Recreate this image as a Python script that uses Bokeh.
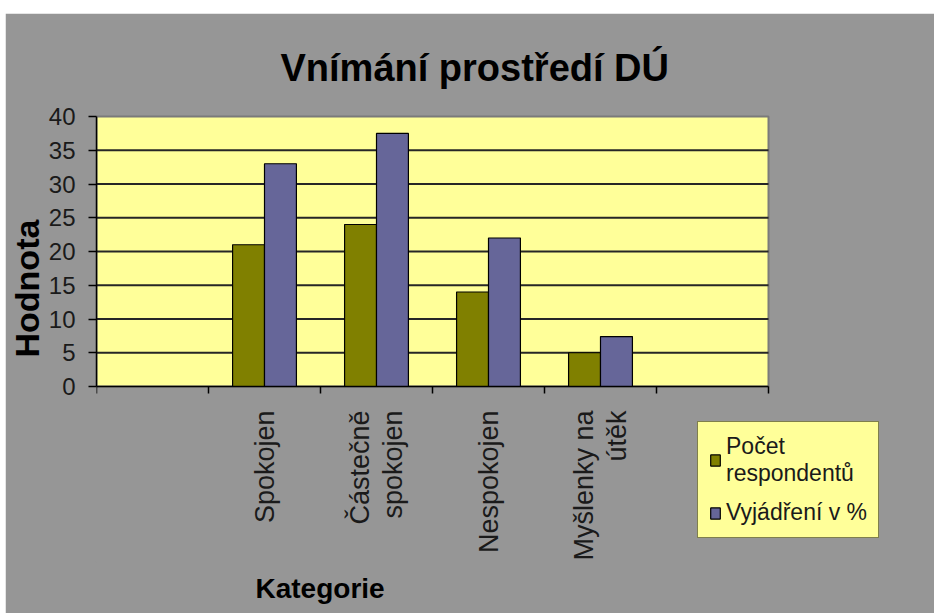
from math import pi

from bokeh.plotting import figure
from bokeh.models import (Range1d, FixedTicker, Legend, LegendItem, Title, ColumnDataSource)
from bokeh.core.properties import value
from bokeh.transform import dodge
from bokeh.embed import file_html
from bokeh.resources import INLINE

# ---- data ----
title_text = "Vnímání prostředí DÚ"
y_title = "Hodnota"
x_title = "Kategorie"
categories = ["Spokojen", "Částečně spokojen", "Nespokojen", "Myšlenky na útěk"]
category_labels = ["Spokojen", "Částečně\nspokojen", "Nespokojen", "Myšlenky na\nútěk"]
pocet_respondentu = [21, 24, 14, 5]
vyjadreni_procenta = [33, 37.5, 22, 7.4]
series_names = ["Počet\nrespondentů", "Vyjádření v %"]
y_ticks = [0, 5, 10, 15, 20, 25, 30, 35, 40]

# ---- styles / layout ----
FONT = "Liberation Sans"
GREY = "#969696"
PLOT_BG = "#FFFF99"
OLIVE = "#808000"
PURPLE = "#666699"
TXT = "#1a1a1a"

y_max = y_ticks[-1]
PX_X = 112.0            # pixels per category slot
PX_Y = 270.0 / y_max    # pixels per value unit
TOP_PAD = 3             # px of frame above the plot area
FRAME_W, FRAME_H = 840, 448

# slots along x: an empty slot at each end, as in the original chart
slots = [None] + categories + [None]
n = len(slots)
cat_pos = [slots.index(c) + 0.5 for c in categories]

y_top = y_max + TOP_PAD / PX_Y
p = figure(x_range=Range1d(0, FRAME_W / PX_X),
           y_range=Range1d(y_top - FRAME_H / PX_Y, y_top),
           frame_width=FRAME_W, frame_height=FRAME_H, margin=(13, 0, 0, 5),
           output_backend="svg", toolbar_location=None,
           min_border_left=88, min_border_right=0, min_border_top=100, min_border_bottom=0,
           background_fill_color=GREY, border_fill_color=GREY)
p.outline_line_color = GREY
p.outline_line_width = 2
p.xgrid.visible = False
p.ygrid.visible = False

# plot area (yellow wall) with grey border, and horizontal grid lines
p.quad(left=[0], right=[n], bottom=[0], top=[y_max], fill_color=PLOT_BG,
       line_color="#7a7a7a", line_width=2, level="image")
grid_vals = [t for t in y_ticks if 0 < t < y_max]
p.segment(x0=[0] * len(grid_vals), x1=[n] * len(grid_vals), y0=grid_vals, y1=grid_vals,
          line_color="#262626", line_width=2, level="underlay")

# y axis
yax = p.yaxis[0]
yax.ticker = FixedTicker(ticks=y_ticks)
yax.bounds = (0, y_max)
yax.axis_line_color = "black"
yax.axis_line_width = 1.5
yax.major_tick_out = 8
yax.major_tick_in = 0
yax.major_tick_line_color = "black"
yax.major_tick_line_width = 1.5
yax.minor_tick_line_color = None
yax.major_label_standoff = 13
yax.major_label_text_font = FONT
yax.major_label_text_font_size = "24px"
yax.major_label_text_color = TXT

# x axis at value 0, tick marks only, at slot boundaries
xax = p.xaxis[0]
xax.fixed_location = 0
xax.bounds = (0, n)
xax.ticker = FixedTicker(ticks=[], minor_ticks=list(range(n + 1)))
xax.axis_line_color = "black"
xax.axis_line_width = 1.5
xax.major_tick_line_color = None
xax.minor_tick_line_color = "black"
xax.minor_tick_line_width = 1.5
xax.minor_tick_out = 7
xax.minor_tick_in = 0

# category names, vertical, hanging below the axis
lab_src = ColumnDataSource(dict(x=cat_pos, y=[-24.0 / PX_Y] * len(cat_pos), text=category_labels))
p.text(x="x", y="y", text="text", source=lab_src, angle=pi / 2,
       text_align="right", text_baseline="middle", text_font=value(FONT),
       text_font_size="27px", text_line_height=1.1, text_color=TXT)

# bars
src = ColumnDataSource(dict(pos=cat_pos, cat=categories,
                            pocet=pocet_respondentu, proc=vyjadreni_procenta))
bw = 0.285
r1 = p.vbar(x=dodge("pos", -bw / 2), top="pocet", width=bw, source=src,
            fill_color=OLIVE, line_color="black", line_width=1.2)
r2 = p.vbar(x=dodge("pos", bw / 2), top="proc", width=bw, source=src,
            fill_color=PURPLE, line_color="black", line_width=1.2)

# title
p.title.text = title_text
p.title.text_font = FONT
p.title.text_font_size = "38px"
p.title.text_font_style = "bold"
p.title.text_color = "black"
p.title.align = "left"
p.title.offset = 184
p.title.standoff = 50

# axis titles
p.add_layout(Title(text=y_title, align="left", offset=204, standoff=0,
                   text_font=FONT, text_font_size="34px", text_font_style="bold",
                   text_color="black"), "left")
p.add_layout(Title(text=x_title, align="left", offset=159, standoff=19,
                   text_font=FONT, text_font_size="28px", text_font_style="bold",
                   text_color="black"), "below")

# legend
legend = Legend(items=[LegendItem(label=series_names[0], renderers=[r1]),
                       LegendItem(label=series_names[1], renderers=[r2])],
                location=(601, 23))
legend.background_fill_color = PLOT_BG
legend.background_fill_alpha = 1
legend.border_line_color = "black"
legend.border_line_width = 1.5
legend.label_text_font = FONT
legend.label_text_font_size = "23px"
legend.label_text_color = TXT
legend.glyph_width = 12
legend.glyph_height = 14
legend.label_standoff = 5
legend.padding = 11
legend.spacing = 12
legend.margin = 0
p.add_layout(legend, "center")

open("out.html", "w").write(file_html(p, INLINE))
